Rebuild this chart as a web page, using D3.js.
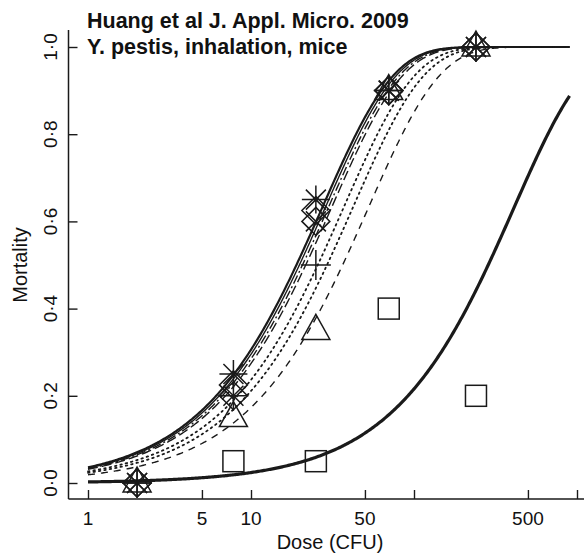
<!DOCTYPE html>
<html><head><meta charset="utf-8">
<script src="https://cdn.jsdelivr.net/npm/d3@7/dist/d3.min.js"></script>
<style>body{margin:0;background:#fff}svg{display:block}text{font-family:"Liberation Sans",Arial,sans-serif;fill:#111}</style>
</head><body><svg id="c" width="584" height="553"></svg>
<script>
const doses = [2, 7.8, 25, 70, 240];
const asterisk = [0, 0.25, 0.65, 0.9, 1.0];
const diamondA = [0, 0.225, 0.625, 0.9, 1.0];
const diamondB = [0, 0.2, 0.6, 0.9, 1.0];
const plusS = [0, 0.2, 0.5, 0.9, 1.0];
const triangleS = [0, 0.15, 0.35, 0.9, 1.0];
const crossS = [0, 0.2, 0.6, 0.9, 1.0];
const squareDoses = [7.8, 25, 70, 240];
const squareS = [0.05, 0.05, 0.4, 0.2];
// exponential dose-response fits p = 1 - exp(-k d)
const fitK = [0.0365, 0.035, 0.0335, 0.032, 0.027, 0.0237, 0.019];
const fitStyle = ["solid-thick", "solid", "dashdot", "longdash", "dotted", "dotted", "dashed"];
const squareK = 0.00243;
const xTicks = [1, 5, 10, 50, 100, 500, 1000];
const xTickLabels = ["1", "5", "10", "50", "", "500", ""];
const yTicks = [0, 0.2, 0.4, 0.6, 0.8, 1.0];
const yTickLabels = ["0·0", "0·2", "0·4", "0·6", "0·8", "1·0"];

const svg = d3.select("#c");
const x = d3.scaleLog().domain([1, 1000]).range([88, 577]);
const y = d3.scaleLinear().domain([0, 1]).range([483, 47]);
const ink = "#1a1a1a";

// axis lines (L box)
svg.append("line").attr("x1", 68.5).attr("x2", 600).attr("y1", 499).attr("y2", 499).attr("stroke", ink).attr("stroke-width", 1.5);
svg.append("line").attr("x1", 68.5).attr("x2", 68.5).attr("y1", 30).attr("y2", 499).attr("stroke", ink).attr("stroke-width", 1.5);

const xAxis = d3.axisTop(x).tickValues(xTicks).tickSize(9).tickFormat("");
svg.append("g").attr("transform", "translate(0,499)").call(xAxis)
  .call(g => g.select(".domain").remove())
  .call(g => g.selectAll("line").attr("stroke", ink).attr("stroke-width", 1.4));
svg.append("g").selectAll("text").data(xTicks).join("text")
  .attr("x", d => x(d)).attr("y", 525).attr("text-anchor", "middle").attr("font-size", 19)
  .text((d, i) => xTickLabels[i]);

const yAxis = d3.axisRight(y).tickValues(yTicks).tickSize(9).tickFormat("");
svg.append("g").attr("transform", "translate(68.5,0)").call(yAxis)
  .call(g => g.select(".domain").remove())
  .call(g => g.selectAll("line").attr("stroke", ink).attr("stroke-width", 1.4));
svg.append("g").selectAll("text").data(yTicks).join("text")
  .attr("transform", d => `translate(57,${y(d)}) rotate(-90)`).attr("text-anchor", "middle").attr("font-size", 19)
  .text((d, i) => yTickLabels[i]);

svg.append("text").attr("transform", `translate(27,${y(0.5)}) rotate(-90)`).attr("text-anchor", "middle").attr("font-size", 20).text("Mortality");
svg.append("text").attr("x", 330).attr("y", 549).attr("text-anchor", "middle").attr("font-size", 20).text("Dose (CFU)");

svg.append("text").attr("x", 87).attr("y", 28).attr("font-size", 21.5).attr("font-weight", "bold").text("Huang et al J. Appl. Micro. 2009");
svg.append("text").attr("x", 87).attr("y", 54).attr("font-size", 21.5).attr("font-weight", "bold").text("Y. pestis, inhalation, mice");

// curves
const grid = d3.range(0, 400).map(i => Math.pow(10, Math.log10(900) * i / 399));
const line = d3.line().x(d => x(d[0])).y(d => y(d[1]));
const dashMap = {"solid-thick": null, "solid": null, "dashdot": "9,3,2,3", "longdash": "10,4", "dotted": "1.5,4", "dashed": "7,6"};
fitK.forEach((k, i) => {
  const st = fitStyle[i];
  svg.append("path").datum(grid.map(d => [d, 1 - Math.exp(-k * d)]))
    .attr("d", line).attr("fill", "none").attr("stroke", ink)
    .attr("stroke-width", st === "solid-thick" ? 2.2 : (st === "dotted" ? 1.8 : 1.4))
    .attr("stroke-linecap", st === "dotted" ? "round" : "butt")
    .attr("stroke-dasharray", dashMap[st]);
});
svg.append("path").datum(grid.map(d => [d, 1 - Math.exp(-squareK * d)]))
  .attr("d", line).attr("fill", "none").attr("stroke", ink).attr("stroke-width", 3.2);

// symbols
const g = svg.append("g").attr("fill", "none").attr("stroke", ink).attr("stroke-width", 1.5);
function sym(type, cx, cy) {
  const s = g.append("g").attr("transform", `translate(${cx},${cy})`);
  if (type === "square") s.append("rect").attr("x", -10.5).attr("y", -10.5).attr("width", 21).attr("height", 21);
  if (type === "diamond") s.append("path").attr("d", "M0,-14L14,0L0,14L-14,0Z");
  if (type === "triangle") s.append("path").attr("d", "M0,-16L14,9L-14,9Z");
  if (type === "plus") s.append("path").attr("d", "M-15,0H15M0,-15V15");
  if (type === "cross") s.append("path").attr("d", "M-10,-10L10,10M-10,10L10,-10");
  if (type === "asterisk") s.append("path").attr("d", "M-14,0H14M0,-14V14M-10,-10L10,10M-10,10L10,-10");
}
const series = [["diamond", diamondA], ["diamond", diamondB], ["triangle", triangleS], ["plus", plusS], ["cross", crossS], ["asterisk", asterisk]];
series.forEach(([t, vals]) => doses.forEach((d, i) => sym(t, x(d), y(vals[i]))));
squareDoses.forEach((d, i) => sym("square", x(d), y(squareS[i])));
</script></body></html>
